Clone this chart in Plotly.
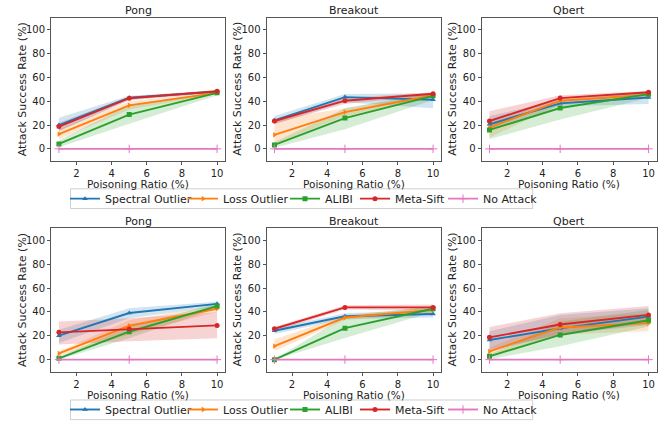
import plotly.graph_objects as go

W, H = 661, 424

x_ratio = [1, 5, 10]
games = ["Pong", "Breakout", "Qbert"]
methods = ["Spectral Outlier", "Loss Outlier", "ALIBI", "Meta-Sift", "No Attack"]
colors = ["#1f77b4", "#ff7f0e", "#2ca02c", "#d62728", "#e377c2"]
fills = ["rgba(31,119,180,0.2)", "rgba(255,127,14,0.2)", "rgba(44,160,44,0.2)",
         "rgba(214,39,40,0.2)", "rgba(227,119,194,0.2)"]
symbols = ["triangle-up", "triangle-right", "square", "circle", "cross-thin"]
y_ticks = [0, 20, 40, 60, 80, 100]
x_ticks = [2, 4, 6, 8, 10]

# ---- top row (means / lower / upper), rows = methods order ----
top_pong_mean = [[20, 42.9, 48], [12.4, 36.5, 47], [4.1, 28.8, 47], [18.7, 42.5, 48.3], [0, 0, 0]]
top_pong_lo = [[15, 40.7, 47], [8, 33, 46], [1.4, 21, 45], [15, 41, 47.3], [0, 0, 0]]
top_pong_hi = [[26, 44.5, 49], [16.5, 40, 48], [7, 37, 48], [22, 44, 49.3], [0, 0, 0]]

top_breakout_mean = [[23.9, 43.4, 41.2], [11.8, 30.8, 45], [3.3, 25.8, 44.5], [23.4, 40.4, 46.2], [0, 0, 0]]
top_breakout_lo = [[20.6, 39, 34], [4, 27.5, 42.6], [1, 16.5, 41], [21, 37.6, 44.5], [0, 0, 0]]
top_breakout_hi = [[27.5, 46, 46.7], [24.7, 34, 46.7], [5.5, 34, 47], [25, 42.6, 47.5], [0, 0, 0]]

top_qbert_mean = [[20.6, 38.2, 43.1], [17.9, 40.4, 45.3], [15.9, 34.3, 45.9], [23.4, 42.6, 47.5], [0, 0, 0]]
top_qbert_lo = [[15, 35.7, 37.6], [9.6, 37, 43], [8.2, 24.7, 42.6], [17.9, 39, 45.9], [0, 0, 0]]
top_qbert_hi = [[27.5, 41, 47.5], [23, 43, 47.5], [22, 38.5, 48], [31.6, 45, 48.6], [0, 0, 0]]

# ---- bottom row ----
bot_pong_mean = [[20.1, 39.1, 46.8], [5.2, 28.4, 42.7], [1.1, 23.4, 44.9], [22.9, 25.6, 28.7], [0, 0, 0]]
bot_pong_lo = [[14, 34.7, 44.4], [3, 21, 40], [0, 18, 43], [12.7, 15.4, 18], [0, 0, 0]]
bot_pong_hi = [[25, 43, 48.5], [7, 33, 45.7], [2.2, 27.8, 47], [32, 34.7, 40], [0, 0, 0]]

bot_breakout_mean = [[24.2, 36.4, 38.3], [11.3, 35.3, 41.6], [0, 26.4, 42.7], [25.9, 43.8, 43.8], [0, 0, 0]]
bot_breakout_lo = [[21.5, 34, 35.3], [7.2, 33.3, 38.8], [0, 18.2, 40], [23.7, 42, 41], [0, 0, 0]]
bot_breakout_hi = [[26.4, 38.8, 41.6], [16.8, 37.5, 44.4], [0.3, 36, 45], [27.3, 45.7, 46.3], [0, 0, 0]]

bot_qbert_mean = [[16.5, 26.2, 36.1], [6.9, 27, 30.6], [2.8, 20.7, 33], [18.7, 29.5, 37.5], [0, 0, 0]]
bot_qbert_lo = [[7.2, 21, 29], [3, 21, 23.7], [0.3, 11.3, 27.8], [8.5, 21, 30.6], [0, 0, 0]]
bot_qbert_hi = [[23.7, 37.5, 43], [10, 34.7, 38.8], [4.4, 32, 41.6], [27.3, 38.8, 45], [0, 0, 0]]

panels = [
    (top_pong_mean, top_pong_lo, top_pong_hi),
    (top_breakout_mean, top_breakout_lo, top_breakout_hi),
    (top_qbert_mean, top_qbert_lo, top_qbert_hi),
    (bot_pong_mean, bot_pong_lo, bot_pong_hi),
    (bot_breakout_mean, bot_breakout_lo, bot_breakout_hi),
    (bot_qbert_mean, bot_qbert_lo, bot_qbert_hi),
]

FONT = "DejaVu Sans"
FS = 10
FL = 11
FX = 10.5

# pixel layout
col_px = [(51, 225), (266.5, 441), (481.5, 656.5)]
row_px = [(18, 163.5), (232.3, 377.8)]
legend_box_y = [(192, 212), (406.7, 426.7)]
legend_box_x = (70.5, 532.7)
legend_text_x = [105, 223, 325, 395, 483]

fig = go.Figure()
annotations = []
shapes = []


def px_x(p):
    return p / W


def px_y(p):
    return 1 - p / H


for i, (mean, lo, hi) in enumerate(panels):
    r, c = divmod(i, 3)
    n = i + 1
    xa = "x" if n == 1 else f"x{n}"
    ya = "y" if n == 1 else f"y{n}"
    for m in range(len(methods)):
        if m < 4:
            fig.add_trace(go.Scatter(
                x=x_ratio + x_ratio[::-1], y=hi[m] + lo[m][::-1],
                fill="toself", fillcolor=fills[m], line=dict(width=0),
                mode="lines", hoverinfo="skip", showlegend=False,
                xaxis=xa, yaxis=ya))
    for m in range(len(methods)):
        leg_idx = r * 5 + m + 1
        legend_name = "legend" if leg_idx == 1 else f"legend{leg_idx}"
        fig.add_trace(go.Scatter(
            x=x_ratio, y=mean[m], mode="lines+markers", name=methods[m],
            line=dict(color=colors[m], width=1.9),
            marker=dict(symbol=symbols[m], size=5 if m != 4 else 6, color=colors[m],
                        line=dict(color=colors[m], width=1 if m == 4 else 0)),
            showlegend=(c == 0), legend=legend_name,
            xaxis=xa, yaxis=ya))
    x0, x1 = col_px[c]
    y0, y1 = row_px[r]
    axis_common = dict(showline=True, mirror=True, linecolor="#555", linewidth=0.9,
                       ticks="outside", ticklen=3, tickwidth=0.9, tickcolor="#555",
                       showgrid=False, zeroline=False,
                       tickfont=dict(family=FONT, size=FS, color="#222"))
    fig.update_layout({
        ("xaxis" if n == 1 else f"xaxis{n}"): dict(
            domain=[px_x(x0), px_x(x1)], anchor=ya, range=[0.55, 10.45],
            tickvals=x_ticks, **axis_common),
        ("yaxis" if n == 1 else f"yaxis{n}"): dict(
            domain=[px_y(y1), px_y(y0)], anchor=xa, range=[-10, 110],
            tickvals=y_ticks, **axis_common),
    })
    annotations.append(dict(text=games[c], x=px_x((x0 + x1) / 2), y=px_y(y0 - 7),
                            xref="paper", yref="paper", showarrow=False,
                            xanchor="center", yanchor="middle",
                            font=dict(family=FONT, size=FL, color="#222")))
    annotations.append(dict(text="Poisoning Ratio (%)", x=px_x((x0 + x1) / 2), y=px_y(y1 + 24),
                            xref="paper", yref="paper", showarrow=False,
                            xanchor="center", yanchor="middle",
                            font=dict(family=FONT, size=FX, color="#222")))
    annotations.append(dict(text="Attack Success Rate (%)", x=px_x(x0 - 29), y=px_y((y0 + y1) / 2),
                            xref="paper", yref="paper", showarrow=False, textangle=-90,
                            xanchor="center", yanchor="middle",
                            font=dict(family=FONT, size=FL, color="#222")))

legends = {}
for r in range(2):
    ly0, ly1 = legend_box_y[r]
    shapes.append(dict(type="rect", xref="paper", yref="paper",
                       x0=px_x(legend_box_x[0]), x1=px_x(legend_box_x[1]),
                       y0=px_y(ly1), y1=px_y(ly0),
                       line=dict(color="#d0d0d0", width=1), fillcolor="white", layer="below"))
    for m in range(5):
        leg_idx = r * 5 + m + 1
        key = "legend" if leg_idx == 1 else f"legend{leg_idx}"
        legends[key] = dict(x=px_x(legend_text_x[m] - 40), y=px_y((ly0 + ly1) / 2),
                            xanchor="left", yanchor="middle", orientation="h",
                            bgcolor="rgba(0,0,0,0)", borderwidth=0,
                            font=dict(family=FONT, size=FL, color="#222"),
                            itemwidth=30)

fig.update_layout(
    width=W, height=H, margin=dict(l=0, r=0, t=0, b=0),
    paper_bgcolor="white", plot_bgcolor="white",
    annotations=annotations, shapes=shapes,
    **legends,
)

fig.write_html("out.html", config={"displayModeBar": False},
               post_script="document.body.style.margin='0';")
